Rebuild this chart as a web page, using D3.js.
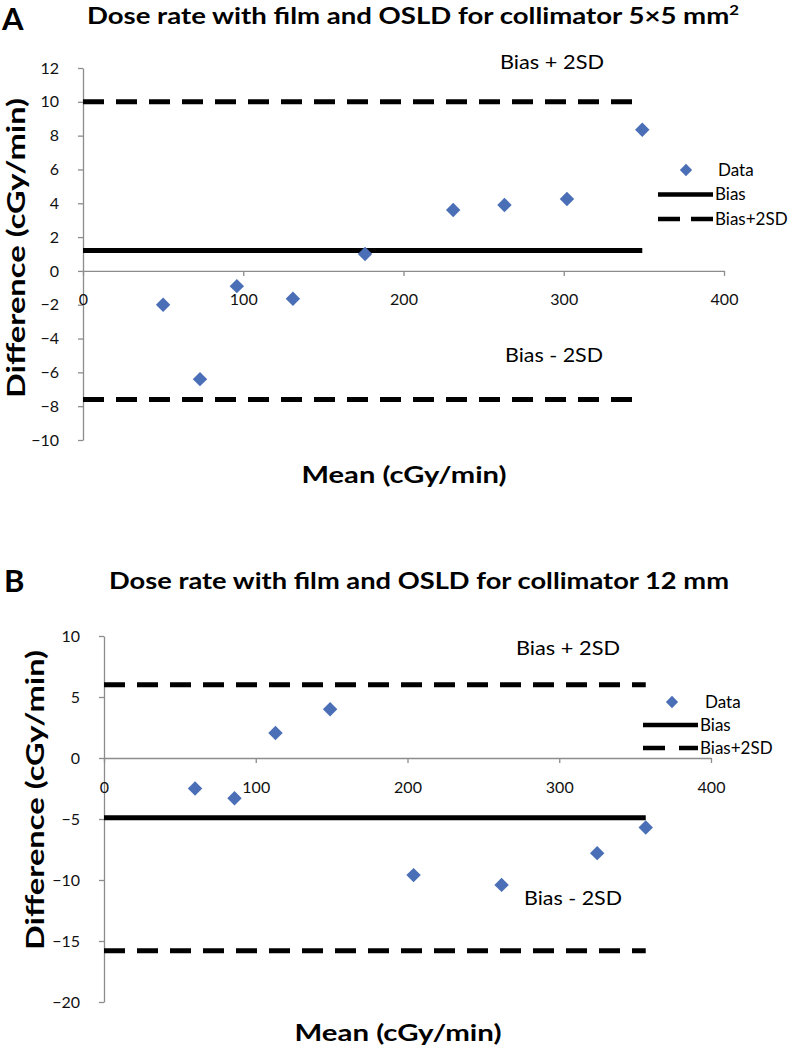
<!DOCTYPE html>
<html>
<head>
<meta charset="utf-8">
<script src="https://cdn.jsdelivr.net/npm/d3@7"></script>
<style>
  html, body { margin: 0; padding: 0; background: #fff; }
  svg { display: block; font-family: Lato, "Open Sans", sans-serif; }
</style>
</head>
<body>
<svg id="chart" width="797" height="1050"></svg>
<script>
// ---------------- DATA ----------------
// Panel A: collimator 5x5 mm2
const meanA = [50, 73, 96, 131, 176, 231, 263, 302, 349];
const diffA = [-2.0, -6.4, -0.9, -1.65, 1.0, 3.6, 3.9, 4.25, 8.35];
const biasA = 1.2;
const upperA = 10.0;
const lowerA = -7.6;
const yTicksA = [-10, -8, -6, -4, -2, 0, 2, 4, 6, 8, 10, 12];
const xTicksA = [0, 100, 200, 300, 400];

// Panel B: collimator 12 mm
const meanB = [60, 86, 113, 149, 204, 262, 325, 357];
const diffB = [-2.5, -3.3, 2.05, 4.0, -9.6, -10.4, -7.8, -5.7];
const biasB = -4.9;
const upperB = 6.0;
const lowerB = -15.8;
const yTicksB = [-20, -15, -10, -5, 0, 5, 10];
const xTicksB = [0, 100, 200, 300, 400];

const titleA = "Dose rate with film and OSLD for collimator 5\u00D75 mm";
const titleB = "Dose rate with film and OSLD for collimator 12 mm";
const yTitle = "Difference (cGy/min)";
const xTitle = "Mean  (cGy/min)";
const legendLabels = ["Data", "Bias", "Bias+2SD"];
const upperLabel = "Bias + 2SD";
const lowerLabel = "Bias - 2SD";

// ---------------- DRAW ----------------
const svg = d3.select("#chart");
const MARKER = "#4b6fb6";
const AXIS = "#8c8c8c";

function drawPanel(cfg) {
  const x = d3.scaleLinear().domain([0, 400]).range(cfg.xRange);
  const y = d3.scaleLinear().domain(cfg.yDomain).range(cfg.yRange);
  const g = svg.append("g");

  // y axis
  const ya = g.append("g")
    .attr("transform", `translate(${x(0)},0)`)
    .call(d3.axisLeft(y).tickValues(cfg.yTicks).tickSize(5).tickSizeOuter(0).tickPadding(cfg.yPad));
  ya.select(".domain").attr("stroke", AXIS).attr("stroke-width", 1.3);
  ya.selectAll(".tick line").attr("stroke", AXIS).attr("stroke-width", 1.3);
  ya.selectAll(".tick text").attr("font-size", 16).attr("fill", "#111")
    .attr("font-family", "Lato, sans-serif");

  // x axis at y = 0
  const xa = g.append("g")
    .attr("transform", `translate(0,${y(0)})`)
    .call(d3.axisBottom(x).tickValues(cfg.xTicks).tickSize(5).tickSizeOuter(0));
  xa.select(".domain").attr("stroke", AXIS).attr("stroke-width", 1.3);
  xa.selectAll(".tick line").attr("stroke", AXIS).attr("stroke-width", 1.3);
  xa.selectAll(".tick text").attr("font-size", 16).attr("fill", "#111")
    .attr("font-family", "Lato, sans-serif")
    .attr("y", cfg.xLabelOffset).attr("dy", "0.35em");

  const maxMean = d3.max(cfg.mean);
  const line = d3.line().x(d => x(d[0])).y(d => y(d[1]));

  // limit lines
  [cfg.upper, cfg.lower].forEach(v => {
    g.append("path").attr("d", line([[0, v], [maxMean, v]]))
      .attr("stroke", "#000").attr("stroke-width", 5).attr("fill", "none")
      .attr("stroke-dasharray", "21,12");
  });
  // bias line
  g.append("path").attr("d", line([[0, cfg.bias], [maxMean, cfg.bias]]))
    .attr("stroke", "#000").attr("stroke-width", 5).attr("fill", "none");

  // points
  const sym = d3.symbol(d3.symbolSquare, 104);
  g.selectAll(".pt").data(cfg.mean.map((m, i) => [m, cfg.diff[i]]))
    .enter().append("path").attr("class", "pt")
    .attr("d", sym())
    .attr("transform", d => `translate(${x(d[0])},${y(d[1])}) rotate(45)`)
    .attr("fill", MARKER);

  // panel letter
  g.append("text").attr("x", cfg.letterX).attr("y", cfg.letterY)
    .attr("font-size", 31).attr("font-weight", 700).attr("font-family", "Lato, sans-serif")
    .text(cfg.letter);

  // title
  const t = g.append("text").attr("x", cfg.titleX).attr("y", cfg.titleY)
    .attr("font-size", 23).attr("font-weight", 700)
    .attr("textLength", cfg.titleLen).attr("lengthAdjust", "spacingAndGlyphs");
  t.append("tspan").text(cfg.title);
  if (cfg.sup) t.append("tspan").attr("dy", -9).attr("font-size", 14).text(cfg.sup);

  // axis titles
  g.append("text")
    .attr("transform", `translate(${cfg.yTitleX},${cfg.yTitleY}) rotate(-90)`)
    .attr("text-anchor", "middle").attr("dy", "0.35em")
    .attr("font-size", 24).attr("font-weight", 700)
    .attr("textLength", cfg.yTitleLen).attr("lengthAdjust", "spacingAndGlyphs")
    .text(yTitle);
  g.append("text")
    .attr("x", cfg.xTitleX).attr("y", cfg.xTitleY)
    .attr("text-anchor", "middle").attr("dy", "0.35em")
    .attr("font-size", 23).attr("font-weight", 700)
    .attr("textLength", cfg.xTitleLen).attr("lengthAdjust", "spacingAndGlyphs")
    .text(xTitle);

  // annotations
  g.append("text").attr("x", cfg.upperLabelX).attr("y", cfg.upperLabelY)
    .attr("dy", "0.35em").attr("font-size", 19)
    .attr("textLength", 104).attr("lengthAdjust", "spacingAndGlyphs").text(upperLabel);
  g.append("text").attr("x", cfg.lowerLabelX).attr("y", cfg.lowerLabelY)
    .attr("dy", "0.35em").attr("font-size", 19)
    .attr("textLength", 98).attr("lengthAdjust", "spacingAndGlyphs").text(lowerLabel);

  // legend
  const L = cfg.legend;
  g.append("path").attr("d", sym())
    .attr("transform", `translate(${L.markerX},${L.y0}) rotate(45) scale(0.85)`)
    .attr("fill", MARKER);
  g.append("line").attr("x1", L.lineX1).attr("x2", L.lineX2)
    .attr("y1", L.y0 + L.step).attr("y2", L.y0 + L.step)
    .attr("stroke", "#000").attr("stroke-width", 4.5);
  g.append("line").attr("x1", L.lineX1).attr("x2", L.lineX2)
    .attr("y1", L.y0 + 2 * L.step).attr("y2", L.y0 + 2 * L.step)
    .attr("stroke", "#000").attr("stroke-width", 4.5)
    .attr("stroke-dasharray", `${L.dash},${L.gap}`);
  legendLabels.forEach((lab, i) => {
    g.append("text").attr("x", i === 0 ? L.dataTextX : L.textX).attr("y", L.y0 + i * L.step)
      .attr("dy", "0.35em").attr("font-size", 17).text(lab);
  });
}

drawPanel({
  letter: "A", letterX: 2, letterY: 30,
  title: titleA, sup: "2", titleX: 87, titleY: 24, titleLen: 652,
  mean: meanA, diff: diffA, bias: biasA, upper: upperA, lower: lowerA,
  xRange: [83, 724], yDomain: [-10, 12], yRange: [440, 68],
  yTicks: yTicksA, xTicks: xTicksA, yPad: 19, xLabelOffset: 28,
  yTitleX: 17, yTitleY: 248, yTitleLen: 300,
  xTitleX: 404, xTitleY: 475, xTitleLen: 205,
  upperLabelX: 500, upperLabelY: 62, lowerLabelX: 505, lowerLabelY: 355,
  legend: { markerX: 686, dataTextX: 718, textX: 715, lineX1: 658, lineX2: 713, y0: 170, step: 24.5, dash: 22, gap: 11 }
});

drawPanel({
  letter: "B", letterX: 4, letterY: 592,
  title: titleB, sup: null, titleX: 109, titleY: 589, titleLen: 620,
  mean: meanB, diff: diffB, bias: biasB, upper: upperB, lower: lowerB,
  xRange: [104, 711], yDomain: [-20, 10], yRange: [1002, 636],
  yTicks: yTicksB, xTicks: xTicksB, yPad: 19, xLabelOffset: 29,
  yTitleX: 36, yTitleY: 800, yTitleLen: 300,
  xTitleX: 398, xTitleY: 1033, xTitleLen: 207,
  upperLabelX: 516, upperLabelY: 648, lowerLabelX: 524, lowerLabelY: 898,
  legend: { markerX: 672, dataTextX: 705, textX: 700, lineX1: 643, lineX2: 698, y0: 702, step: 23, dash: 22, gap: 14 }
});
</script>
</body>
</html>
